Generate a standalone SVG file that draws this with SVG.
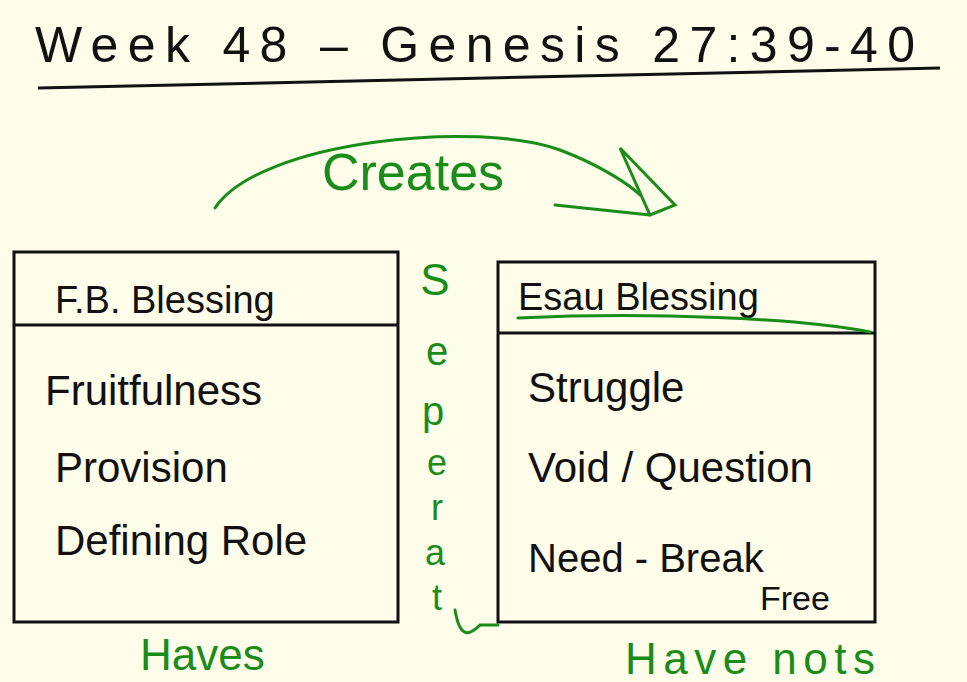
<svg xmlns="http://www.w3.org/2000/svg" width="967" height="682" viewBox="0 0 967 682">
<style>
.k{font-family:"Liberation Sans",Arial,sans-serif;fill:#111}
.g{font-family:"Liberation Sans",Arial,sans-serif;fill:#1a8c1a}
.box{fill:none;stroke:#111;stroke-width:3}
.gl{fill:none;stroke:#1a8c1a;stroke-width:3;stroke-linecap:round}
</style>
<rect width="967" height="682" fill="#fdfde9"/>
<g id="title">
<text class="k" x="35" y="62" font-size="50" textLength="880">Week 48 – Genesis 27:39-40</text>
<path d="M38 88 L940 68" stroke="#111" stroke-width="3" fill="none"/>
</g>
<g id="connectors">
<path class="gl" d="M215 208 C260 140 480 120 560 150 C600 165 630 185 640 195"/>
<path class="gl" d="M620 148 L650 215 L675 205 Z M555 205 L650 215"/>
<text class="g" x="322" y="190" font-size="52">Creates</text>
</g>
<g id="fb">
<rect class="box" x="14" y="252" width="384" height="370"/>
<line class="box" x1="14" y1="325" x2="398" y2="325"/>
<text class="k" x="55" y="313" font-size="38">F.B. Blessing</text>
<text class="k" x="45" y="405" font-size="42">Fruitfulness</text>
<text class="k" x="55" y="482" font-size="42">Provision</text>
<text class="k" x="55" y="555" font-size="42">Defining Role</text>
<text class="g" x="140" y="670" font-size="44">Haves</text>
</g>
<g id="sep">
<text class="g" x="435" y="295" font-size="44" text-anchor="middle">S</text>
<text class="g" x="437" y="365" font-size="40" text-anchor="middle">e</text>
<text class="g" x="433" y="425" font-size="40" text-anchor="middle">p</text>
<text class="g" x="437" y="475" font-size="36" text-anchor="middle">e</text>
<text class="g" x="437" y="520" font-size="36" text-anchor="middle">r</text>
<text class="g" x="435" y="565" font-size="36" text-anchor="middle">a</text>
<text class="g" x="437" y="610" font-size="36" text-anchor="middle">t</text>
<path class="gl" d="M455 610 C460 640 470 635 480 625 L498 625"/>
</g>
<g id="esau">
<rect class="box" x="498" y="262" width="377" height="360"/>
<line class="box" x1="498" y1="333" x2="875" y2="333"/>
<text class="k" x="518" y="310" font-size="38">Esau Blessing</text>
<path class="gl" d="M518 318 C650 312 800 318 870 332"/>
<text class="k" x="528" y="402" font-size="42">Struggle</text>
<text class="k" x="528" y="482" font-size="42">Void / Question</text>
<text class="k" x="528" y="572" font-size="40">Need - Break</text>
<text class="k" x="760" y="610" font-size="34">Free</text>
<text class="g" x="625" y="674" font-size="44" textLength="250">Have nots</text>
</g>
</svg>
